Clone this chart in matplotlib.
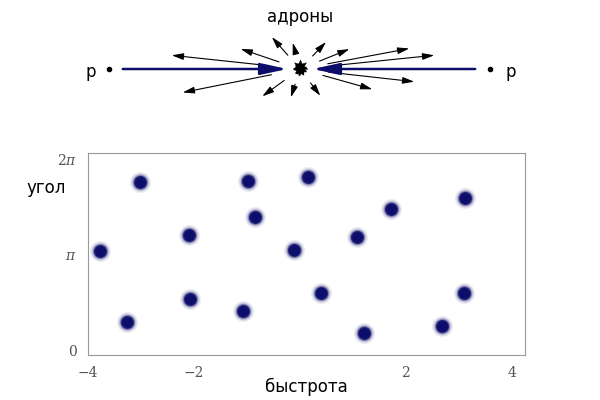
import matplotlib
matplotlib.use("Agg")
import matplotlib.pyplot as plt
import numpy as np

rapidity = [-3.77, -3.26, -3.02, -2.09, -2.08, -1.08, -0.98, -0.85, -0.11, 0.15, 0.40, 1.08, 1.21, 1.72, 2.68, 3.09, 3.11]
angle = [3.27, 0.92, 5.53, 3.80, 1.70, 1.31, 5.56, 4.38, 3.30, 5.69, 1.90, 3.73, 0.56, 4.65, 0.79, 1.90, 5.01]
xticks = [-4, -2, 2, 4]
xticklabels = ["\u22124", "\u22122", "2", "4"]
yticks = [0, np.pi, 2 * np.pi]
yticklabels = ["0", "$\\pi$", "2$\\pi$"]
# hadron arrow tips (diagram pixel coords)
tip_x = [169, 180, 238, 270, 292, 328, 352, 412, 437, 417, 375, 322, 290, 260]
tip_y = [55, 93, 48, 35, 40, 40, 48, 48, 55, 82, 90, 98, 100, 98]

plt.rcParams['mathtext.fontset'] = 'dejavuserif'
fig = plt.figure(figsize=(6, 4), dpi=100)
top = fig.add_axes([0, 0, 1, 1])
top.set_xlim(0, 600); top.set_ylim(400, 0); top.axis("off")
cx, cy = 300, 69
for tx, ty in zip(tip_x, tip_y):
    v = np.array([tx - cx, ty - cy], float)
    L = np.hypot(*v); u = v / L
    d = 12 + 0.12 * abs(u[0]) * L
    sx, sy = cx + u[0] * d, cy + u[1] * d
    top.annotate("", xy=(tx, ty), xytext=(sx, sy),
                 arrowprops=dict(arrowstyle="-|>,head_length=0.7,head_width=0.2", color="black", lw=0.8))
navy = "#0d0d6b"
top.annotate("", xy=(290, 69), xytext=(120, 69),
             arrowprops=dict(arrowstyle="-|>,head_length=1.6,head_width=0.35", color=navy, lw=1.8))
top.annotate("", xy=(310, 69), xytext=(478, 69),
             arrowprops=dict(arrowstyle="-|>,head_length=1.6,head_width=0.35", color=navy, lw=1.8))
top.plot([109, 490], [69, 69], "o", color="black", ms=3)
top.plot([300], [69], marker=(9, 1, 10), color="black", ms=9)
top.plot([300], [67], marker=(7, 1, 0), color="black", ms=11, markeredgewidth=0.3)
top.text(91, 72, "p", fontsize=12, ha="center", va="center")
top.text(511, 72, "p", fontsize=12, ha="center", va="center")
top.text(300, 17, "адроны", fontsize=12, ha="center", va="center")

ax = fig.add_axes([88/600, 45/400, 437/600, 202/400])
for s, a in [(230, 0.08), (170, 0.15), (125, 0.35), (90, 0.8), (60, 1.0)]:
    ax.scatter(rapidity, angle, s=s, color=navy, alpha=a, linewidths=0)
ax.set_xlim(-4.0, 4.25)
ax.set_ylim(-0.15, 2 * np.pi + 0.2)
ax.set_xticks(xticks); ax.set_xticklabels(xticklabels, color="#555555", fontsize=10, family="DejaVu Serif")
ax.set_yticks(yticks); ax.set_yticklabels(yticklabels, color="#555555", fontsize=10, family="DejaVu Serif")
ax.tick_params(length=0, pad=8)
for sp in ax.spines.values():
    sp.set_color("#999999"); sp.set_linewidth(0.8)
ax.set_xlabel("быстрота", fontsize=12, labelpad=-2)
fig.text(46/600, 1 - 188/400, "угол", fontsize=12, ha="center", va="center")
fig.savefig("out.png", dpi=100)
